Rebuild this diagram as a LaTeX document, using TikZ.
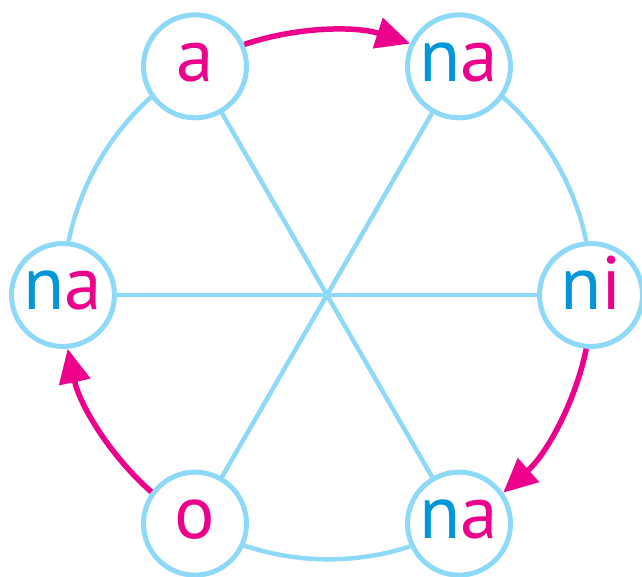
\documentclass[tikz,border=0pt]{standalone}
\usepackage{fontspec}
\setmainfont{PT Sans}
\usetikzlibrary{arrows.meta}
\definecolor{ringblue}{HTML}{8ED8F8}
\definecolor{consblue}{HTML}{0096D9}
\definecolor{vowpink}{HTML}{EC008C}
\newcommand{\cons}[1]{\textcolor{consblue}{#1}}
\newcommand{\vow}[1]{\textcolor{vowpink}{#1}}
\tikzset{
  syl/.style={circle, draw=ringblue, line width=0.1cm, minimum size=2.06cm, inner sep=0pt,
    font=\fontsize{43}{43}\selectfont, text height=0.6cm, text depth=0pt},
  spoke/.style={draw=ringblue, line width=0.09cm},
  ring/.style={bend left=18.26, looseness=0.873},
  turn/.style={draw=vowpink, line width=0.11cm, -{Triangle[length=0.68cm,width=0.62cm]}}
}
\begin{document}
\begin{tikzpicture}[x=0.02cm, y=0.02cm]
  \useasboundingbox (-327,-282) rectangle (315,295);
  % syllables on the ring
  \node[syl] (a)   at (120:264) {\vow{a}};
  \node[syl] (na1) at (60:264)  {\cons{n}\vow{a}};
  \node[syl] (ni)  at (0:264)   {\cons{n}\vow{i}};
  \node[syl] (na3) at (-60:264) {\cons{n}\vow{a}};
  \node[syl] (o)   at (240:264) {\vow{o}};
  \node[syl] (na2) at (180:264) {\cons{n}\vow{a}};
  % spokes
  \draw[spoke] (a) -- (na3);
  \draw[spoke] (na1) -- (o);
  \draw[spoke] (na2) -- (ni);
  % ring
  \draw[spoke] (na2.84.13) to[ring] (a.215.87);
  \draw[spoke] (na1.-35.87) to[ring] (ni.95.87);
  \draw[spoke] (na3.-155.87) to[ring] (o.-24.13);
  % arrows
  \draw[turn] (a.24.13) to[ring] (na1.155.87);
  \draw[turn] (ni.-95.87) to[ring] (na3.35.87);
  \draw[turn] (o.144.13) to[ring] (na2.275.87);
\end{tikzpicture}
\end{document}
